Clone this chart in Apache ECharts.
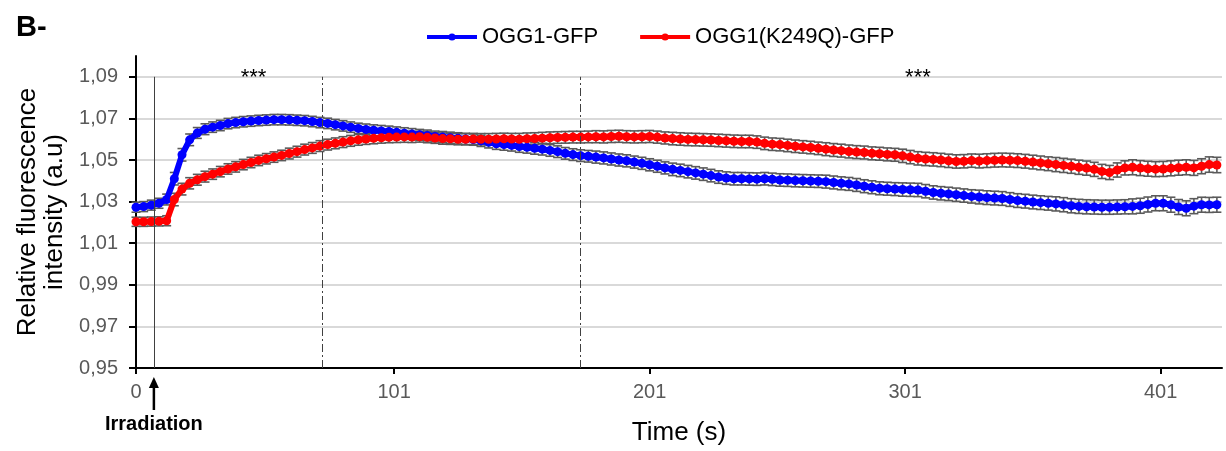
<!DOCTYPE html>
<html><head><meta charset="utf-8">
<script src="https://cdn.jsdelivr.net/npm/echarts@6/dist/echarts.min.js"></script>
<style>html,body{margin:0;padding:0;background:#fff}#c{width:1226px;height:451px}</style>
</head><body><div id="c"></div>
<script>
const times = [
0,3,6,9,12,15,18,21,24,27,
30,33,36,39,42,45,48,51,54,57,
60,63,66,69,72,75,78,81,84,87,
90,93,96,99,102,105,108,111,114,117,
120,123,126,129,132,135,138,141,144,147,
150,153,156,159,162,165,168,171,174,177,
180,183,186,189,192,195,198,201,204,207,
210,213,216,219,222,225,228,231,234,237,
240,243,246,249,252,255,258,261,264,267,
270,273,276,279,282,285,288,291,294,297,
300,303,306,309,312,315,318,321,324,327,
330,333,336,339,342,345,348,351,354,357,
360,363,366,369,372,375,378,381,384,387,
390,393,396,399,402,405,408,411,414,417,
420,423];

const blueValues = [
1.0273,1.0276,1.0283,1.0292,1.0310,1.0410,1.0525,1.0597,1.0630,1.0648,
1.0658,1.0666,1.0675,1.0680,1.0684,1.0687,1.0690,1.0692,1.0694,1.0694,
1.0693,1.0691,1.0689,1.0685,1.0680,1.0676,1.0670,1.0664,1.0658,1.0652,
1.0647,1.0643,1.0640,1.0637,1.0633,1.0629,1.0625,1.0621,1.0618,1.0613,
1.0610,1.0607,1.0604,1.0601,1.0598,1.0592,1.0585,1.0578,1.0574,1.0570,
1.0565,1.0561,1.0556,1.0552,1.0546,1.0540,1.0532,1.0526,1.0521,1.0518,
1.0514,1.0510,1.0505,1.0500,1.0496,1.0490,1.0484,1.0477,1.0470,1.0462,
1.0455,1.0450,1.0444,1.0438,1.0432,1.0425,1.0418,1.0413,1.0410,1.0410,
1.0409,1.0408,1.0410,1.0407,1.0404,1.0403,1.0401,1.0400,1.0399,1.0398,
1.0396,1.0392,1.0388,1.0385,1.0380,1.0374,1.0369,1.0364,1.0362,1.0360,
1.0358,1.0357,1.0356,1.0350,1.0344,1.0340,1.0337,1.0333,1.0329,1.0325,
1.0322,1.0319,1.0317,1.0315,1.0310,1.0305,1.0302,1.0298,1.0295,1.0292,
1.0289,1.0285,1.0280,1.0277,1.0275,1.0274,1.0273,1.0273,1.0274,1.0275,
1.0277,1.0280,1.0286,1.0292,1.0292,1.0285,1.0274,1.0268,1.0278,1.0285,
1.0284,1.0285];

const redValues = [
1.0203,1.0203,1.0204,1.0205,1.0208,1.0310,1.0360,1.0388,1.0405,1.0420,
1.0432,1.0444,1.0457,1.0467,1.0478,1.0488,1.0498,1.0506,1.0514,1.0522,
1.0531,1.0540,1.0550,1.0558,1.0567,1.0574,1.0580,1.0586,1.0592,1.0597,
1.0601,1.0604,1.0607,1.0609,1.0610,1.0611,1.0610,1.0612,1.0609,1.0606,
1.0603,1.0602,1.0600,1.0600,1.0601,1.0600,1.0600,1.0601,1.0602,1.0601,
1.0600,1.0602,1.0603,1.0605,1.0607,1.0608,1.0609,1.0610,1.0610,1.0611,
1.0612,1.0611,1.0613,1.0614,1.0612,1.0611,1.0612,1.0613,1.0610,1.0606,
1.0603,1.0601,1.0599,1.0598,1.0597,1.0596,1.0594,1.0592,1.0590,1.0589,
1.0589,1.0586,1.0580,1.0576,1.0574,1.0570,1.0566,1.0563,1.0560,1.0556,
1.0552,1.0548,1.0545,1.0541,1.0538,1.0536,1.0532,1.0530,1.0527,1.0525,
1.0520,1.0514,1.0508,1.0505,1.0503,1.0500,1.0496,1.0493,1.0494,1.0497,
1.0495,1.0497,1.0499,1.0500,1.0499,1.0497,1.0494,1.0490,1.0486,1.0482,
1.0478,1.0474,1.0470,1.0465,1.0461,1.0455,1.0445,1.0440,1.0452,1.0462,
1.0465,1.0461,1.0458,1.0456,1.0457,1.0460,1.0463,1.0465,1.0462,1.0470,
1.0478,1.0476];

const blueErrors = [
0.0024,0.0024,0.0024,0.0024,0.0026,0.0030,0.0030,0.0028,0.0026,0.0026,
0.0025,0.0025,0.0025,0.0025,0.0025,0.0025,0.0025,0.0025,0.0025,0.0025,
0.0025,0.0025,0.0025,0.0025,0.0025,0.0025,0.0025,0.0025,0.0025,0.0025,
0.0026,0.0026,0.0026,0.0026,0.0026,0.0026,0.0026,0.0026,0.0026,0.0026,
0.0027,0.0027,0.0027,0.0027,0.0027,0.0027,0.0027,0.0027,0.0027,0.0027,
0.0028,0.0028,0.0028,0.0028,0.0028,0.0028,0.0028,0.0028,0.0028,0.0028,
0.0029,0.0029,0.0029,0.0029,0.0029,0.0029,0.0029,0.0029,0.0029,0.0029,
0.0030,0.0030,0.0030,0.0030,0.0030,0.0030,0.0030,0.0030,0.0030,0.0030,
0.0030,0.0030,0.0030,0.0030,0.0030,0.0030,0.0030,0.0030,0.0030,0.0030,
0.0031,0.0031,0.0031,0.0031,0.0031,0.0031,0.0031,0.0031,0.0031,0.0031,
0.0032,0.0032,0.0032,0.0032,0.0032,0.0032,0.0032,0.0032,0.0032,0.0032,
0.0033,0.0033,0.0033,0.0033,0.0033,0.0033,0.0033,0.0033,0.0033,0.0033,
0.0034,0.0034,0.0034,0.0034,0.0034,0.0034,0.0034,0.0034,0.0034,0.0034,
0.0036,0.0036,0.0036,0.0036,0.0036,0.0036,0.0036,0.0036,0.0036,0.0036,
0.0036,0.0036];

const redErrors = [
0.0022,0.0022,0.0022,0.0022,0.0024,0.0030,0.0028,0.0027,0.0026,0.0026,
0.0025,0.0025,0.0025,0.0025,0.0025,0.0025,0.0025,0.0025,0.0025,0.0025,
0.0026,0.0026,0.0026,0.0026,0.0026,0.0026,0.0026,0.0026,0.0026,0.0026,
0.0026,0.0026,0.0026,0.0026,0.0026,0.0026,0.0026,0.0026,0.0026,0.0026,
0.0027,0.0027,0.0027,0.0027,0.0027,0.0027,0.0027,0.0027,0.0027,0.0027,
0.0028,0.0028,0.0028,0.0028,0.0028,0.0028,0.0028,0.0028,0.0028,0.0028,
0.0029,0.0029,0.0029,0.0029,0.0029,0.0029,0.0029,0.0029,0.0029,0.0029,
0.0030,0.0030,0.0030,0.0030,0.0030,0.0030,0.0030,0.0030,0.0030,0.0030,
0.0030,0.0030,0.0030,0.0030,0.0030,0.0030,0.0030,0.0030,0.0030,0.0030,
0.0031,0.0031,0.0031,0.0031,0.0031,0.0031,0.0031,0.0031,0.0031,0.0031,
0.0032,0.0032,0.0032,0.0032,0.0032,0.0032,0.0032,0.0032,0.0032,0.0032,
0.0033,0.0033,0.0033,0.0033,0.0033,0.0033,0.0033,0.0033,0.0033,0.0033,
0.0034,0.0034,0.0034,0.0034,0.0034,0.0034,0.0034,0.0034,0.0034,0.0034,
0.0036,0.0036,0.0036,0.0036,0.0036,0.0036,0.0036,0.0036,0.0036,0.0036,
0.0037,0.0037];

const xTickLabels = [0, 101, 201, 301, 401];
const yTickLabels = [0.95, 0.97, 0.99, 1.01, 1.03, 1.05, 1.07, 1.09];
const seriesNames = ['OGG1-GFP', 'OGG1(K249Q)-GFP'];
const irradiationTime = 7;
const phaseBoundaries = [73, 174];
const significanceTimes = [46, 306];
const significanceLabel = '***';

const FONT = '"Liberation Sans", Arial, sans-serif';
const chart = echarts.init(document.getElementById('c'), null, {renderer: 'canvas'});

function errorBars(name, vals, errs) {
  return {
    type: 'custom', name: name + ' err', silent: true, z: 1, animation: false,
    data: times.map((t, i) => [t, vals[i] - errs[i], vals[i] + errs[i]]),
    encode: {x: 0, y: [1, 2]},
    renderItem(params, api) {
      const lo = api.coord([api.value(0), api.value(1)]);
      const hi = api.coord([api.value(0), api.value(2)]);
      const w = 4.5;
      const st = {stroke: '#5a5a5a', lineWidth: 1.6};
      return {type: 'group', children: [
        {type: 'line', shape: {x1: lo[0], y1: lo[1], x2: hi[0], y2: hi[1]}, style: st},
        {type: 'line', shape: {x1: lo[0] - w, y1: lo[1], x2: lo[0] + w, y2: lo[1]}, style: st},
        {type: 'line', shape: {x1: hi[0] - w, y1: hi[1], x2: hi[0] + w, y2: hi[1]}, style: st}
      ]};
    }
  };
}

function mainLine(name, vals, color) {
  return {
    type: 'line', name: name, z: 3, animation: false,
    data: times.map((t, i) => [t, vals[i]]),
    symbol: 'circle', symbolSize: 9, showSymbol: true,
    lineStyle: {color: color, width: 6},
    itemStyle: {color: color}
  };
}

const option = {
  backgroundColor: '#fff',
  animation: false,
  title: {text: 'B-', left: 11, top: 8, textStyle: {fontFamily: FONT, fontSize: 29, fontWeight: 'bold', color: '#000'}},
  legend: {
    data: seriesNames, left: 420, top: 21, itemWidth: 50, itemHeight: 9, itemGap: 40,
    lineStyle: {width: 4},
    textStyle: {fontFamily: FONT, fontSize: 22, color: '#000'}
  },
  grid: {left: 136, right: 4, top: 56, bottom: 83},
  xAxis: {
    type: 'value', min: 0, max: 425,
    axisLine: {lineStyle: {color: '#000', width: 2}},
    axisTick: {customValues: xTickLabels, length: 6, lineStyle: {color: '#000', width: 2}},
    axisLabel: {customValues: xTickLabels, fontFamily: FONT, fontSize: 20, color: '#595959', margin: 14},
    splitLine: {show: false},
    name: 'Time (s)', nameLocation: 'middle', nameGap: 52,
    nameTextStyle: {fontFamily: FONT, fontSize: 26, color: '#000'}
  },
  yAxis: {
    type: 'value', min: 0.95, max: 1.10,
    axisLine: {show: true, lineStyle: {color: '#000', width: 2}},
    axisTick: {show: true, customValues: yTickLabels, length: 7, lineStyle: {color: '#000', width: 2}},
    axisLabel: {customValues: yTickLabels, fontFamily: FONT, fontSize: 20, color: '#595959', margin: 18,
      formatter: v => v.toFixed(2).replace('.', ',')},
    splitLine: {show: true, lineStyle: {color: '#d9d9d9', width: 2}},
    name: 'Relative fluorescence\nintensity (a.u)', nameLocation: 'middle', nameGap: 66,
    nameTextStyle: {fontFamily: FONT, fontSize: 26, color: '#000', lineHeight: 27}
  },
  series: [
    errorBars(seriesNames[0], blueValues, blueErrors),
    errorBars(seriesNames[1], redValues, redErrors),
    mainLine(seriesNames[0], blueValues, '#0000ff'),
    mainLine(seriesNames[1], redValues, '#ff0000'),
    {
      type: 'line', name: 'annotations', data: [], z: 0, silent: true, animation: false,
      markLine: {
        silent: true, symbol: ['none', 'none'], label: {show: false}, animation: false,
        data: [
          [{coord: [irradiationTime, 0.95], lineStyle: {type: 'solid', color: '#404040', width: 1}}, {coord: [irradiationTime, 1.09]}]
        ].concat(phaseBoundaries.map(b => [
          {coord: [b, 0.95], lineStyle: {type: [8, 3, 2, 3], color: '#404040', width: 1}}, {coord: [b, 1.09]}
        ]))
      },
      markPoint: {
        silent: true, symbol: 'circle', symbolSize: 1, itemStyle: {color: 'rgba(0,0,0,0)'}, animation: false,
        label: {show: true, position: 'inside', formatter: p => p.name, fontFamily: FONT, fontSize: 22, color: '#000'},
        data: significanceTimes.map(t => ({name: significanceLabel, coord: [t, 1.0893]}))
      }
    }
  ]
};
chart.setOption(option);

const px = chart.convertToPixel({xAxisIndex: 0}, irradiationTime);
const y0 = chart.convertToPixel({yAxisIndex: 0}, 0.95);
chart.setOption({
  graphic: [
    {type: 'polygon', shape: {points: [[px, y0 + 9], [px - 5, y0 + 20], [px + 5, y0 + 20]]}, style: {fill: '#000'}},
    {type: 'line', shape: {x1: px, y1: y0 + 18, x2: px, y2: y0 + 42}, style: {stroke: '#000', lineWidth: 2.5}},
    {type: 'text', x: px, y: y0 + 56, style: {text: 'Irradiation', fontFamily: FONT, fontSize: 20, fontWeight: 'bold',
      fill: '#000', align: 'center', verticalAlign: 'middle'}}
  ]
});
</script>
</body></html>
